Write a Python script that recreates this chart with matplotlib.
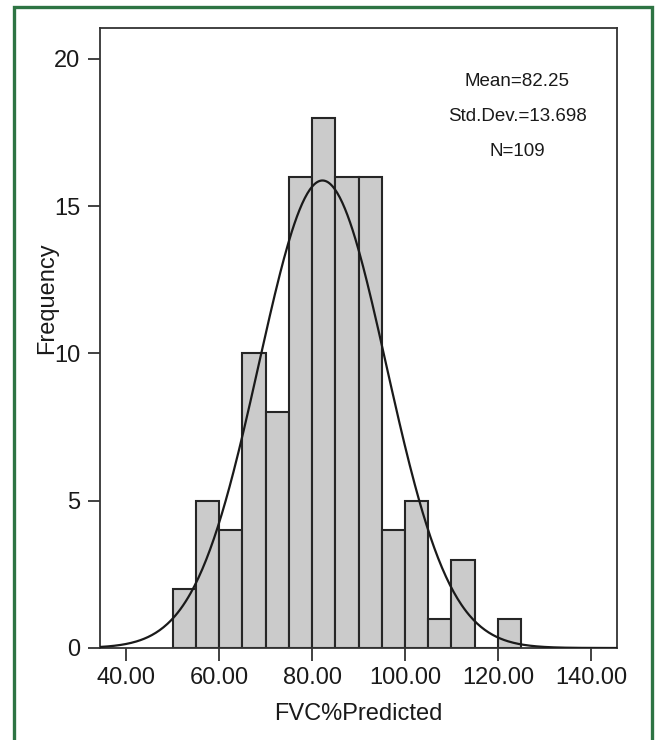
import numpy as np
import matplotlib
matplotlib.use("Agg")
import matplotlib.pyplot as plt
from matplotlib.patches import Rectangle

plt.rcParams['font.family'] = ['Liberation Sans', 'DejaVu Sans']

# histogram bins (FVC % predicted) and counts
bin_edges = [50, 55, 60, 65, 70, 75, 80, 85, 90, 95, 100, 105, 110, 115, 120, 125]
counts = [2, 5, 4, 10, 8, 16, 18, 16, 16, 4, 5, 1, 3, 0, 1]
mean = 82.25
std_dev = 13.698
n_obs = 109
x_ticks = [40, 60, 80, 100, 120, 140]
y_ticks = [0, 5, 10, 15, 20]

fig = plt.figure(figsize=(6.55, 7.4), dpi=100)
ax = fig.add_axes([100 / 655, 92 / 740, 517 / 655, 620 / 740])

# histogram bars
lefts = np.array(bin_edges[:-1])
widths = np.diff(bin_edges)
ax.bar(lefts, counts, width=widths, align='edge', color='#cbcbcb',
       edgecolor='#262626', linewidth=1.5, zorder=2)

# normal curve scaled to the counts
x = np.linspace(34.4, 145.6, 400)
bw = widths[0]
y = n_obs * bw / (std_dev * np.sqrt(2 * np.pi)) * np.exp(-0.5 * ((x - mean) / std_dev) ** 2)
ax.plot(x, y, color='#1a1a1a', linewidth=1.6, zorder=3)

ax.set_xlim(34.4, 145.6)
ax.set_ylim(0, 21.05)
ax.set_xticks(x_ticks)
ax.set_xticklabels([f"{v:.2f}" for v in x_ticks])
ax.set_yticks(y_ticks)
ax.tick_params(direction='out', length=9, width=1.3, color='#333333',
               labelsize=17, labelcolor='#1a1a1a', pad=5)
for s in ax.spines.values():
    s.set_color('#333333')
    s.set_linewidth(1.3)

ax.set_xlabel('FVC%Predicted', fontsize=17, color='#1a1a1a')
ax.xaxis.set_label_coords(0.5, -0.089)
ax.set_ylabel('Frequency', fontsize=17, color='#1a1a1a')
ax.yaxis.set_label_coords(-0.081, 0.565)

# stats text
stats = [f"Mean={mean:.2f}", f"Std.Dev.={std_dev:.3f}", f"N={n_obs}"]
for i, t in enumerate(stats):
    ax.text(0.807, 0.913 - i * 0.0565, t, transform=ax.transAxes,
            ha='center', va='center', fontsize=13.5, color='#1a1a1a')

# green frame (open at the bottom, cut by the image edge)
fig.patches.append(Rectangle((13.5 / 655, -0.05), (652 - 13.5) / 655, (740 - 6.5) / 740 + 0.05,
                             transform=fig.transFigure, fill=False,
                             edgecolor='#2e7443', linewidth=2.4))

fig.savefig('out.png', dpi=100)
